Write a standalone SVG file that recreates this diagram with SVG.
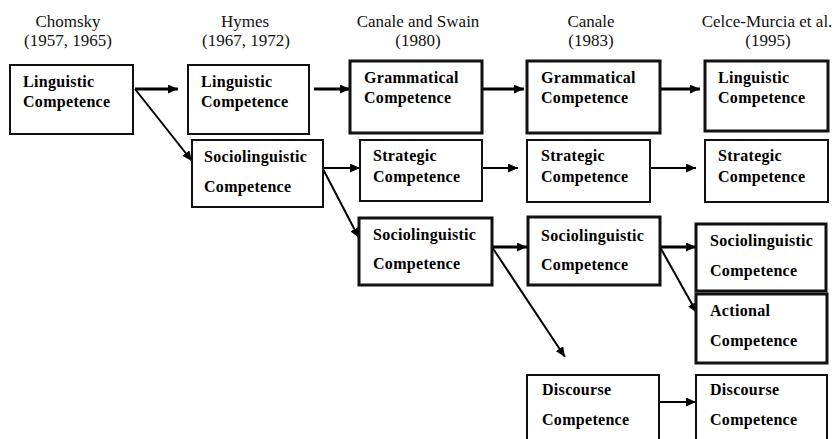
<svg xmlns="http://www.w3.org/2000/svg" width="837" height="439" viewBox="0 0 837 439">
<style>
.hdr{font-family:'Times New Roman',Times,'Liberation Serif','Noto Serif','DejaVu Serif',serif;font-size:17px;fill:#111;text-anchor:middle}
.lbl{font-family:'Times New Roman',Times,'Liberation Serif','Noto Serif','DejaVu Serif',serif;font-size:16px;font-weight:bold;fill:#000;letter-spacing:0.3px}
.box{fill:#fff;stroke:#111;stroke-width:2}
.thick{stroke-width:3}
.con{fill:none;stroke:#000;stroke-width:2}
.con3{stroke-width:3}
</style>
<defs>
<marker id="ah" markerUnits="userSpaceOnUse" markerWidth="11" markerHeight="9" refX="10" refY="4.5" orient="auto">
<path d="M0,0 L10,4.5 L0,9 z" fill="#000"/>
</marker>
</defs>
<rect width="837" height="439" fill="#fff"/>
<g id="headers">
<text class="hdr" x="68" y="27">Chomsky</text>
<text class="hdr" x="68" y="46">(1957, 1965)</text>
<text class="hdr" x="245" y="27">Hymes</text>
<text class="hdr" x="246" y="46">(1967, 1972)</text>
<text class="hdr" x="418" y="27">Canale and Swain</text>
<text class="hdr" x="418" y="46">(1980)</text>
<text class="hdr" x="591" y="27">Canale</text>
<text class="hdr" x="591" y="46">(1983)</text>
<text class="hdr" x="767" y="27">Celce-Murcia et al.</text>
<text class="hdr" x="768" y="46">(1995)</text>
</g>
<g id="connectors">
<line class="con con3" x1="135" y1="89" x2="178" y2="89" marker-end="url(#ah)"/>
<line class="con" x1="135" y1="89" x2="192" y2="161" marker-end="url(#ah)"/>
<line class="con con3" x1="314" y1="89" x2="350" y2="89" marker-end="url(#ah)"/>
<line class="con" x1="323" y1="168" x2="360" y2="168" marker-end="url(#ah)"/>
<line class="con" x1="323" y1="169" x2="359" y2="238" marker-end="url(#ah)"/>
<line class="con con3" x1="482" y1="89" x2="524" y2="89" marker-end="url(#ah)"/>
<line class="con" x1="482" y1="168" x2="518" y2="168" marker-end="url(#ah)"/>
<line class="con con3" x1="492" y1="247" x2="527" y2="247" marker-end="url(#ah)"/>
<line class="con" x1="492" y1="247" x2="565" y2="357" marker-end="url(#ah)"/>
<line class="con con3" x1="660" y1="89" x2="700" y2="89" marker-end="url(#ah)"/>
<line class="con" x1="650" y1="168" x2="696" y2="168" marker-end="url(#ah)"/>
<line class="con con3" x1="660" y1="247" x2="696" y2="247" marker-end="url(#ah)"/>
<line class="con" x1="660" y1="247" x2="697" y2="313" marker-end="url(#ah)"/>
<line class="con" x1="659" y1="402" x2="696" y2="402" marker-end="url(#ah)"/>
</g>
<g id="chomsky-linguistic">
<rect class="box" x="10" y="65" width="123" height="69"/>
<text class="lbl" x="23" y="87">Linguistic</text>
<text class="lbl" x="23" y="107">Competence</text>
</g>
<g id="hymes-linguistic">
<rect class="box" x="188" y="65" width="121" height="69"/>
<text class="lbl" x="201" y="87">Linguistic</text>
<text class="lbl" x="201" y="107">Competence</text>
</g>
<g id="hymes-sociolinguistic">
<rect class="box" x="192" y="140" width="131" height="67"/>
<text class="lbl" x="204" y="162">Sociolinguistic</text>
<text class="lbl" x="204" y="192">Competence</text>
</g>
<g id="cs-grammatical">
<rect class="box thick" x="350" y="61" width="132" height="72"/>
<text class="lbl" x="364" y="83">Grammatical</text>
<text class="lbl" x="364" y="103">Competence</text>
</g>
<g id="cs-strategic">
<rect class="box" x="360" y="140" width="122" height="61"/>
<text class="lbl" x="373" y="161">Strategic</text>
<text class="lbl" x="373" y="182">Competence</text>
</g>
<g id="cs-sociolinguistic">
<rect class="box thick" x="359" y="218" width="133" height="67"/>
<text class="lbl" x="373" y="240">Sociolinguistic</text>
<text class="lbl" x="373" y="269">Competence</text>
</g>
<g id="canale-grammatical">
<rect class="box thick" x="527" y="61" width="133" height="72"/>
<text class="lbl" x="541" y="83">Grammatical</text>
<text class="lbl" x="541" y="103">Competence</text>
</g>
<g id="canale-strategic">
<rect class="box" x="527" y="140" width="123" height="62"/>
<text class="lbl" x="541" y="161">Strategic</text>
<text class="lbl" x="541" y="182">Competence</text>
</g>
<g id="canale-sociolinguistic">
<rect class="box thick" x="528" y="217" width="132" height="68"/>
<text class="lbl" x="541" y="241">Sociolinguistic</text>
<text class="lbl" x="541" y="270">Competence</text>
</g>
<g id="canale-discourse">
<rect class="box" x="527" y="375" width="132" height="80"/>
<text class="lbl" x="542" y="395">Discourse</text>
<text class="lbl" x="542" y="425">Competence</text>
</g>
<g id="celce-linguistic">
<rect class="box thick" x="705" y="61" width="123" height="70"/>
<text class="lbl" x="718" y="83">Linguistic</text>
<text class="lbl" x="718" y="103">Competence</text>
</g>
<g id="celce-strategic">
<rect class="box" x="705" y="140" width="123" height="62"/>
<text class="lbl" x="718" y="161">Strategic</text>
<text class="lbl" x="718" y="182">Competence</text>
</g>
<g id="celce-sociolinguistic">
<rect class="box thick" x="696" y="224" width="130" height="67"/>
<text class="lbl" x="710" y="246">Sociolinguistic</text>
<text class="lbl" x="710" y="276">Competence</text>
</g>
<g id="celce-actional">
<rect class="box thick" x="696" y="294" width="131" height="69"/>
<text class="lbl" x="710" y="316">Actional</text>
<text class="lbl" x="710" y="346">Competence</text>
</g>
<g id="celce-discourse">
<rect class="box" x="696" y="375" width="131" height="80"/>
<text class="lbl" x="710" y="395">Discourse</text>
<text class="lbl" x="710" y="425">Competence</text>
</g>
</svg>
